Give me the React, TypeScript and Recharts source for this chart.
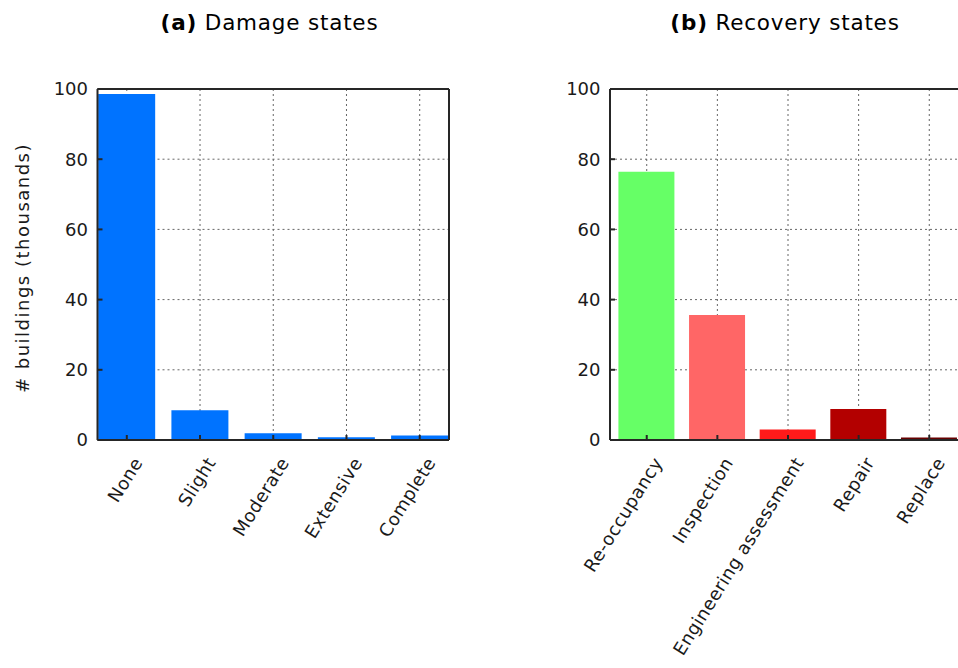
import React from 'react';
import { BarChart, Bar, XAxis, YAxis, CartesianGrid, Cell } from 'recharts';

const damageStates = ['None', 'Slight', 'Moderate', 'Extensive', 'Complete'];
const damageCounts = [98.6, 8.5, 1.9, 0.8, 1.3];
const damageColor = '#0073FF';

const recoveryStates = ['Re-occupancy', 'Inspection', 'Engineering assessment', 'Repair', 'Replace'];
const recoveryCounts = [76.4, 35.6, 3.0, 8.8, 0.7];
const recoveryColors = ['#66FF66', '#FF6666', '#FF1A1A', '#B30000', '#660000'];

const yTicks = [0, 20, 40, 60, 80, 100];
const xPositions = [1, 2, 3, 4, 5];

const FONT = 'DejaVu Sans, Verdana, sans-serif';
const AX = '#262626';

const damageData = damageStates.map((name, i) => ({ x: xPositions[i], name, value: damageCounts[i] }));
const recoveryData = recoveryStates.map((name, i) => ({ x: xPositions[i], name, value: recoveryCounts[i] }));

const makeTick = (labels: string[]) => (props: any) => {
  const { x, y, payload } = props;
  const idx = Math.round(payload.value) - 1;
  const label = labels[idx] ?? '';
  const ax = x + 11;
  const ay = y + 19;
  return (
    <text
      x={ax}
      y={ay}
      textAnchor="end"
      dominantBaseline="central"
      transform={`rotate(-58, ${ax}, ${ay})`}
      fontFamily={FONT}
      fontSize={18}
      letterSpacing={0.4}
      fill="#1a1a1a"
    >
      {label}
    </text>
  );
};

type PanelProps = {
  data: { x: number; name: string; value: number }[];
  labels: string[];
  colors: string[];
  width: number;
  left: number;
  right: number;
  domain: [number, number];
  barSize: number;
};

const TOP_H = 10;
const BOT_H = 30;
const LEFT_W = 60;
const RIGHT_W = 10;

const Panel = ({ data, labels, colors, width, left, right, domain, barSize }: PanelProps) => (
  <BarChart
    width={width}
    height={668}
    data={data}
    margin={{ top: 89 - TOP_H, left: left - LEFT_W, right: right - RIGHT_W, bottom: 228 - BOT_H }}
    barCategoryGap="10%"
  >
    <CartesianGrid stroke="#666" strokeDasharray="2 3" strokeWidth={1} />
    <XAxis
      dataKey="x"
      type="number"
      domain={domain}
      allowDataOverflow
      ticks={xPositions}
      height={BOT_H}
      axisLine={{ stroke: AX, strokeWidth: 2 }}
      tickLine={{ stroke: AX, strokeWidth: 2 }}
      tickSize={-5}
      tickMargin={5}
      tick={makeTick(labels)}
      interval={0}
    />
    <XAxis
      xAxisId="top"
      orientation="top"
      type="number"
      domain={domain}
      allowDataOverflow
      ticks={xPositions}
      height={TOP_H}
      axisLine={{ stroke: AX, strokeWidth: 2 }}
      tickLine={{ stroke: AX, strokeWidth: 2 }}
      tickSize={-5}
      tick={false}
    />
    <YAxis
      type="number"
      domain={[0, 100]}
      ticks={yTicks}
      width={LEFT_W}
      allowDataOverflow
      axisLine={{ stroke: AX, strokeWidth: 2 }}
      tickLine={{ stroke: AX, strokeWidth: 2 }}
      tickSize={-5}
      tickMargin={14.5}
      tick={{ fontFamily: FONT, fontSize: 18, fill: '#1a1a1a' }}
      interval={0}
    />
    <YAxis
      yAxisId="right"
      orientation="right"
      type="number"
      domain={[0, 100]}
      ticks={yTicks}
      width={RIGHT_W}
      allowDataOverflow
      axisLine={{ stroke: AX, strokeWidth: 2 }}
      tickLine={{ stroke: AX, strokeWidth: 2 }}
      tickSize={-5}
      tick={false}
    />
    <Bar dataKey="value" barSize={barSize} isAnimationActive={false}>
      {data.map((d, i) => (
        <Cell key={d.name} fill={colors[i % colors.length]} />
      ))}
    </Bar>
  </BarChart>
);

export default function App() {
  return (
    <div
      style={{
        position: 'absolute',
        left: 0,
        top: 0,
        width: 958,
        height: 668,
        overflow: 'hidden',
        background: '#fff',
        fontFamily: FONT,
      }}
    >
      <div style={{ position: 'absolute', left: 0, top: 0 }}>
        <Panel
          data={damageData}
          labels={damageStates}
          colors={[damageColor]}
          width={480}
          left={97.5}
          right={31}
          domain={[0.6, 5.4]}
          barSize={57}
        />
      </div>
      <div style={{ position: 'absolute', left: 480, top: 0 }}>
        <Panel
          data={recoveryData}
          labels={recoveryStates}
          colors={recoveryColors}
          width={520}
          left={130}
          right={34}
          domain={[0.48, 5.52]}
          barSize={56}
        />
      </div>
      <svg
        width={958}
        height={668}
        style={{ position: 'absolute', left: 0, top: 0, pointerEvents: 'none' }}
      >
        <text x={269.5} y={30} textAnchor="middle" fontFamily={FONT} fontSize={21.5} letterSpacing={0.8} fill="#000">
          <tspan fontWeight="bold">(a)</tspan> Damage states
        </text>
        <text x={785} y={30} textAnchor="middle" fontFamily={FONT} fontSize={21.5} letterSpacing={0.8} fill="#000">
          <tspan fontWeight="bold">(b)</tspan> Recovery states
        </text>
        <text
          x={29}
          y={268}
          textAnchor="middle"
          transform="rotate(-90, 29, 268)"
          fontFamily={FONT}
          fontSize={18}
          letterSpacing={1.5}
          fill="#1a1a1a"
        >
          # buildings (thousands)
        </text>
      </svg>
    </div>
  );
}
